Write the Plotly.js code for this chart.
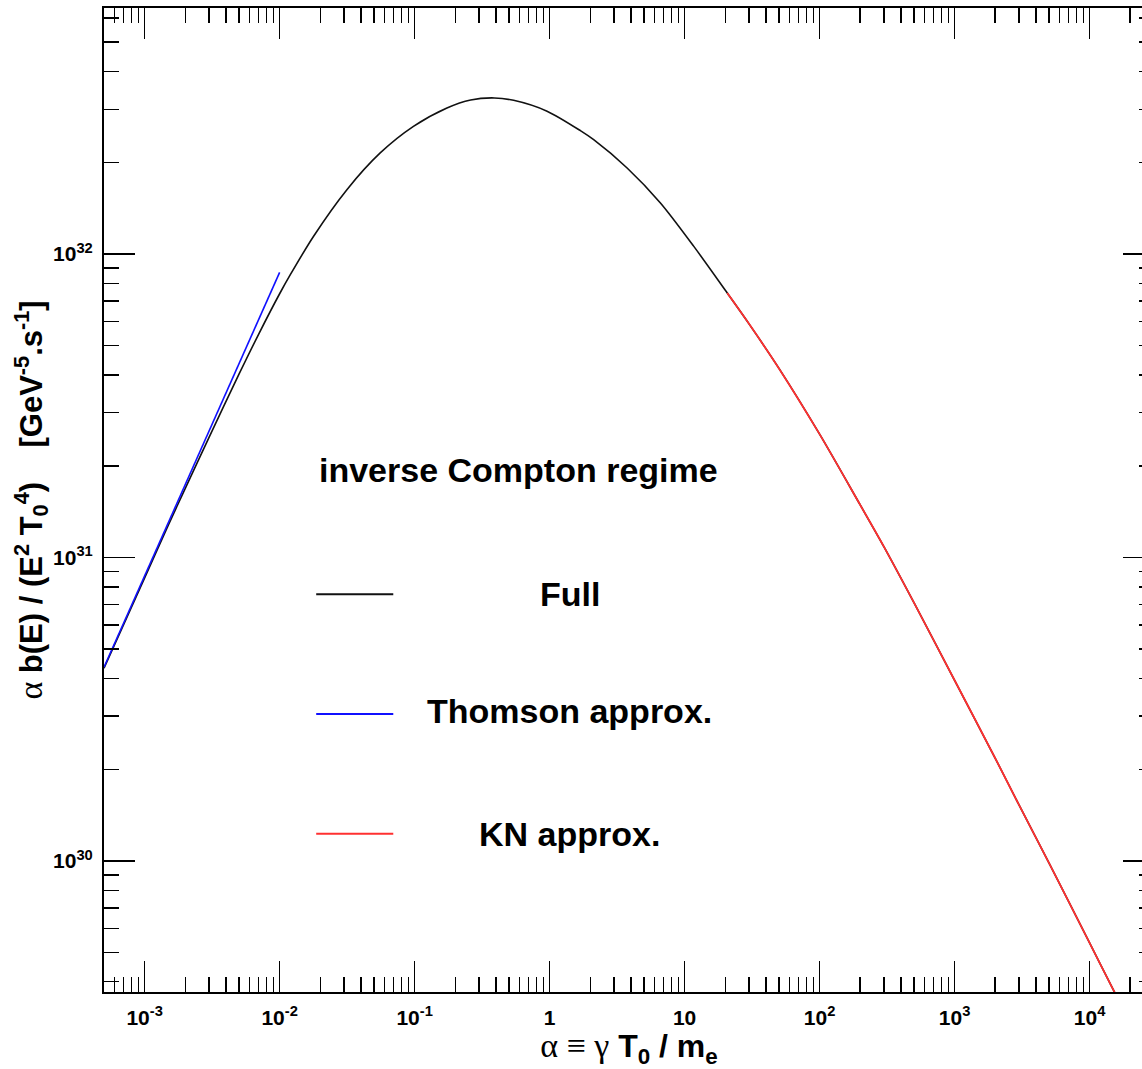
<!DOCTYPE html>
<html>
<head>
<meta charset="utf-8">
<script src="https://cdn.plot.ly/plotly-3.0.1.min.js"></script>
<style>html,body{margin:0;padding:0;overflow:hidden;background:#fff;}</style>
</head>
<body>
<div id="chart"></div>
<script>
// ---- data ----
var fullAlpha = [5e-4, 1e-3, 1.5e-3, 2e-3, 3e-3, 5e-3, 7e-3, 1e-2, 0.012, 0.0178, 0.0315, 0.0556,
                 0.098, 0.1735, 0.26, 0.39, 0.541, 0.957, 1.69, 2.12, 3.75, 6.62, 11.7, 20.7,
                 30, 50, 100, 200, 300, 500, 1000, 2000, 3000, 5000, 1e4, 1.5e4, 2e4, 3e4];
var fullY = [4.32e30, 8.57e30, 1.28e31, 1.69e31, 2.49e31, 4.02e31, 5.45e31, 7.40e31, 8.55e31, 1.143e32, 1.63e32, 2.154e32,
             2.635e32, 3.03e32, 3.22e32, 3.27e32, 3.211e32, 2.957e32, 2.551e32, 2.382e32, 1.922e32, 1.474e32, 1.060e32, 7.44e31,
             5.89e31, 4.20e31, 2.55e31, 1.49e31, 1.084e31, 7.1e30, 3.94e30, 2.18e30, 1.53e30, 9.86e29, 5.37e29, 3.76e29, 2.92e29, 2.04e29];

var thomsonAlpha = [5e-4, 1e-3, 1e-2];
var thomsonY = [4.35e30, 8.7e30, 8.7e31];

var knAlpha = [20.7, 30, 50, 100, 200, 300, 500, 1000, 2000, 3000, 5000, 1e4, 1.5e4, 2e4, 3e4];
var knY = [7.44e31, 5.89e31, 4.20e31, 2.55e31, 1.49e31, 1.084e31, 7.1e30, 3.94e30, 2.18e30, 1.53e30, 9.86e29, 5.37e29, 3.76e29, 2.92e29, 2.04e29];

var xTickVals = [1e-3, 1e-2, 1e-1, 1, 10, 1e2, 1e3, 1e4];
var xTickText = ['10<sup>-3</sup>', '10<sup>-2</sup>', '10<sup>-1</sup>', '1', '10', '10<sup>2</sup>', '10<sup>3</sup>', '10<sup>4</sup>'];
var yTickVals = [1e30, 1e31, 1e32];
var yTickText = ['10<sup>30</sup>', '10<sup>31</sup>', '10<sup>32</sup>'];

var legendLabels = ['Full', 'Thomson approx.', 'KN approx.'];
var legendColors = ['#111111', '#1010ff', '#ff3030'];
var headerText = 'inverse Compton regime';

// ---- minor tick positions (2..9 per decade) ----
function minorTicks(lo, hi, d0, d1) {
  var v = [];
  for (var d = d0; d <= d1; d++) {
    for (var m = 2; m <= 9; m++) {
      var t = m * Math.pow(10, d);
      if (t > lo && t < hi) v.push(t);
    }
  }
  return v;
}
var xMin = 5e-4, xMax = 3e4, yMin = 3.7e29, yMax = 6.47e32;

var traces = [
  {x: fullAlpha, y: fullY, type: 'scatter', mode: 'lines', name: legendLabels[0],
   line: {color: legendColors[0], width: 1.6, shape: 'spline', smoothing: 0.8}},
  {x: thomsonAlpha, y: thomsonY, type: 'scatter', mode: 'lines', name: legendLabels[1],
   line: {color: legendColors[1], width: 1.6}},
  {x: knAlpha, y: knY, type: 'scatter', mode: 'lines', name: legendLabels[2],
   line: {color: legendColors[2], width: 1.8, shape: 'spline', smoothing: 0.8}}
];

var SANS = 'Liberation Sans, Arial, sans-serif';
var tickFont = {family: SANS, size: 21, color: '#000', weight: 'bold'};
var symStyle = 'font-family:Liberation Serif;font-size:34px';

var layout = {
  width: 1154, height: 1069,
  margin: {l: 104, r: 0, t: 8, b: 77, pad: 0},
  paper_bgcolor: '#fff', plot_bgcolor: '#fff',
  showlegend: false,
  xaxis: {
    type: 'log', range: [Math.log10(xMin), Math.log10(xMax)],
    tickmode: 'array', tickvals: xTickVals, ticktext: xTickText,
    ticks: 'inside', ticklen: 31, tickwidth: 1.5, tickcolor: '#000',
    minor: {tickmode: 'array', tickvals: minorTicks(xMin, xMax, -4, 4), ticks: 'inside', ticklen: 15, tickwidth: 1.5, tickcolor: '#000', showgrid: false},
    showline: true, linecolor: '#000', linewidth: 2, mirror: 'ticks',
    showgrid: false, zeroline: false,
    tickfont: tickFont, ticklabelstandoff: 6,
    title: {text: '<span style="' + symStyle + '">α ≡ γ</span> <b>T<sub>0</sub> / m<sub>e</sub></b>',
            font: {family: SANS, size: 32, color: '#000'}, standoff: 0}
  },
  yaxis: {
    type: 'log', range: [Math.log10(yMin), Math.log10(yMax)],
    tickmode: 'array', tickvals: yTickVals, ticktext: yTickText,
    ticks: 'inside', ticklen: 31, tickwidth: 1.5, tickcolor: '#000',
    minor: {tickmode: 'array', tickvals: minorTicks(yMin, yMax, 29, 32), ticks: 'inside', ticklen: 15, tickwidth: 1.5, tickcolor: '#000', showgrid: false},
    showline: true, linecolor: '#000', linewidth: 2, mirror: 'ticks',
    showgrid: false, zeroline: false,
    tickfont: tickFont, ticklabelstandoff: 5,
    title: {text: '<span style="' + symStyle + '">α</span> <b>b(E) / (E<sup>2</sup> T<sub>0</sub><sup>4</sup>)\u00a0\u00a0\u00a0 [GeV<sup>-5</sup>.s<sup>-1</sup>]</b>',
            font: {family: SANS, size: 31, color: '#000'}, standoff: 0}
  },
  shapes: [
    {type: 'line', xref: 'paper', yref: 'paper', x0: 0.2021, x1: 0.2755, y0: 0.4042, y1: 0.4042, line: {color: legendColors[0], width: 2}},
    {type: 'line', xref: 'paper', yref: 'paper', x0: 0.2021, x1: 0.2755, y0: 0.2825, y1: 0.2825, line: {color: legendColors[1], width: 2}},
    {type: 'line', xref: 'paper', yref: 'paper', x0: 0.2021, x1: 0.2755, y0: 0.1609, y1: 0.1609, line: {color: legendColors[2], width: 2}}
  ],
  annotations: [
    {xref: 'paper', yref: 'paper', x: 0.203, y: 0.5305, xanchor: 'left', yanchor: 'middle', showarrow: false,
     text: '<b>' + headerText + '</b>', font: {family: SANS, size: 34, color: '#000'}},
    {xref: 'paper', yref: 'paper', x: 0.4438, y: 0.4042, xanchor: 'center', yanchor: 'middle', showarrow: false,
     text: '<b>' + legendLabels[0] + '</b>', font: {family: SANS, size: 34, color: '#000'}},
    {xref: 'paper', yref: 'paper', x: 0.4438, y: 0.2855, xanchor: 'center', yanchor: 'middle', showarrow: false,
     text: '<b>' + legendLabels[1] + '</b>', font: {family: SANS, size: 34, color: '#000'}},
    {xref: 'paper', yref: 'paper', x: 0.4438, y: 0.1609, xanchor: 'center', yanchor: 'middle', showarrow: false,
     text: '<b>' + legendLabels[2] + '</b>', font: {family: SANS, size: 34, color: '#000'}}
  ]
};

Plotly.newPlot('chart', traces, layout, {staticPlot: true, displayModeBar: false});
</script>
</body>
</html>
